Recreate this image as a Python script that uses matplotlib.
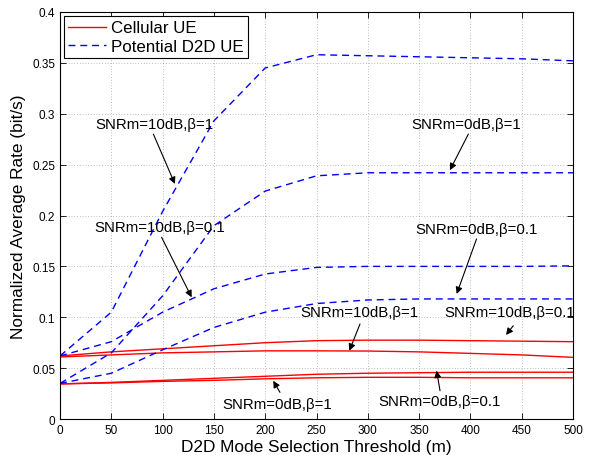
import numpy as np
import matplotlib
matplotlib.use('Agg')
import matplotlib.pyplot as plt

plt.rcParams['font.family'] = ['Liberation Sans', 'DejaVu Sans']

# ---------------- data ----------------
threshold = [0, 50, 100, 150, 200, 250, 300, 350, 400, 450, 500]

# potential D2D UE
d2d_10dB_b1 = [0.062, 0.105, 0.204, 0.293, 0.345, 0.358, 0.357, 0.356, 0.355, 0.354, 0.352]
d2d_10dB_b01 = [0.062, 0.076, 0.105, 0.128, 0.1425, 0.149, 0.150, 0.150, 0.150, 0.150, 0.1505]
d2d_0dB_b1 = [0.035, 0.065, 0.121, 0.190, 0.224, 0.239, 0.242, 0.242, 0.242, 0.242, 0.242]
d2d_0dB_b01 = [0.035, 0.045, 0.068, 0.090, 0.105, 0.1135, 0.117, 0.118, 0.118, 0.118, 0.118]

# cellular UE
cell_10dB_b01 = [0.062, 0.066, 0.069, 0.072, 0.075, 0.077, 0.0775, 0.0775, 0.077, 0.0765, 0.076]
cell_10dB_b1 = [0.061, 0.063, 0.065, 0.066, 0.067, 0.067, 0.0668, 0.066, 0.0645, 0.063, 0.0606]
cell_0dB_b01 = [0.0345, 0.036, 0.038, 0.040, 0.042, 0.044, 0.045, 0.0455, 0.046, 0.046, 0.046]
cell_0dB_b1 = [0.0345, 0.0355, 0.037, 0.038, 0.0395, 0.0405, 0.041, 0.041, 0.0405, 0.0405, 0.0405]

yticks = [0, 0.05, 0.1, 0.15, 0.2, 0.25, 0.3, 0.35, 0.4]
ytick_labels = ['0', '0.05', '0.1', '0.15', '0.2', '0.25', '0.3', '0.35', '0.4']

# annotations: text, text pos, arrow tail, arrow tip
notes = [
    ('SNRm=10dB,\u03b2=1', (91.6, 0.290), (91.0, 0.280), (112.0, 0.231)),
    ('SNRm=10dB,\u03b2=0.1', (97.5, 0.189), (99.0, 0.1786), (128.3, 0.1196)),
    ('SNRm=0dB,\u03b2=1', (396.0, 0.290), (398.0, 0.280), (380.0, 0.2445)),
    ('SNRm=0dB,\u03b2=0.1', (405.5, 0.1867), (406.0, 0.177), (386.6, 0.1229)),
    ('SNRm=10dB,\u03b2=1', (291.5, 0.105), (292.4, 0.0934), (282.0, 0.0671)),
    ('SNRm=10dB,\u03b2=0.1', (438.6, 0.105), (441.8, 0.0917), (434.7, 0.0826)),
    ('SNRm=0dB,\u03b2=1', (211.5, 0.0147), (214.4, 0.0262), (207.8, 0.0376)),
    ('SNRm=0dB,\u03b2=0.1', (370.4, 0.018), (370.4, 0.0278), (367.0, 0.0475)),
]

# ---------------- plot ----------------
fig = plt.figure(figsize=(5.9, 4.56), dpi=100)
ax = fig.add_axes([0.1017, 0.0789, 0.8695, 0.8926])

dash = (5, 3.5)
ax.plot(threshold, cell_10dB_b01, '-', color='#ff0000', lw=1.0, label='Cellular UE')
ax.plot(threshold, d2d_10dB_b1, '--', color='#0000ff', lw=1.0, dashes=dash, label='Potential D2D UE')
ax.plot(threshold, cell_10dB_b1, '-', color='#ff0000', lw=1.0)
ax.plot(threshold, cell_0dB_b01, '-', color='#ff0000', lw=1.0)
ax.plot(threshold, cell_0dB_b1, '-', color='#ff0000', lw=1.0)
ax.plot(threshold, d2d_10dB_b01, '--', color='#0000ff', lw=1.0, dashes=dash)
ax.plot(threshold, d2d_0dB_b1, '--', color='#0000ff', lw=1.0, dashes=dash)
ax.plot(threshold, d2d_0dB_b01, '--', color='#0000ff', lw=1.0, dashes=dash)

for txt, tpos, tail, tip in notes:
    ax.text(tpos[0], tpos[1], txt, fontsize=10.8, ha='center', va='center')
    ax.annotate('', xy=tip, xytext=tail,
                arrowprops=dict(arrowstyle='-|>', color='k', lw=0.8,
                                mutation_scale=10, shrinkA=0, shrinkB=0))

ax.set_xlim(0, 500)
ax.set_ylim(0, 0.4)
ax.set_xticks(threshold)
ax.set_yticks(yticks)
ax.set_yticklabels(ytick_labels)
ax.tick_params(direction='in', top=True, right=True, labelsize=8.5, length=4, width=0.6)
ax.grid(True, color='#808080', linestyle=(0, (1, 3)), linewidth=0.5)
for s in ax.spines.values():
    s.set_linewidth(0.8)

ax.set_xlabel('D2D Mode Selection Threshold (m)', fontsize=12.4, labelpad=2)
ax.set_ylabel('Normalized Average Rate (bit/s)', fontsize=12.4, labelpad=4)

leg = ax.legend(loc='upper left', fontsize=12.2, handlelength=2.2, borderpad=0.25,
                labelspacing=0.2, handletextpad=0.3, borderaxespad=0.25,
                fancybox=False, framealpha=1)
leg.get_frame().set_edgecolor('k')
leg.get_frame().set_linewidth(0.8)

plt.savefig('out.png', dpi=100)
